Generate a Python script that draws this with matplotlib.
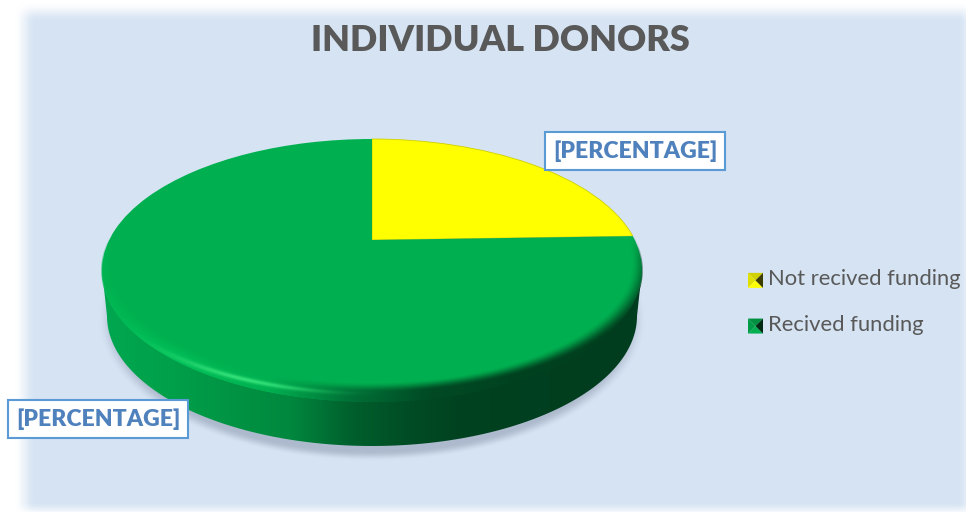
import numpy as np
import matplotlib
matplotlib.use("Agg")
import matplotlib.pyplot as plt
from matplotlib.colors import to_rgb
from matplotlib.legend_handler import HandlerBase
from matplotlib.patches import Polygon
from matplotlib.transforms import Transform

plt.rcParams['font.family'] = ['Lato', 'DejaVu Sans']

#chart data
title = "INDIVIDUAL DONORS"
categories = ["Not recived funding", "Recived funding"]
shares = [24.5, 75.5]
slice_colors = ["#FFFF00", "#00B050"]
data_labels = ["[PERCENTAGE]", "[PERCENTAGE]"]

W, H = 966, 512
CX, CY, A, B = 372, 270, 270, 131  #top face of the disc in pixels
APEX_Y = 240  #where the slices meet, perspective pushes it above the ellipse centre
K = (CY - APEX_Y) / B


class DiscProjection(Transform):  #unit circle -> tilted disc, true perspective map
    input_dims = 2
    output_dims = 2

    def transform_non_affine(self, values):
        u, v = values[:, 0], values[:, 1]
        px = CX + A * u * np.sqrt(1 - K ** 2) / (1 + K * v)
        py = CY - B * (v + K) / (1 + K * v)
        return np.column_stack([px, py])


class PyramidHandler(HandlerBase):  #bevelled legend key
    def create_artists(self, legend, orig, x0, y0, width, height, fontsize, trans):
        c = np.array(to_rgb(orig.get_facecolor()))
        s = 10.8
        x1, y1 = x0, y0 + height / 2 - s / 2 - 2.2
        x2, y2 = x1 + s, y1 + s
        mx, my = x1 + s / 2, y1 + s / 2
        sides = [([(x1, y2), (x2, y2), (mx, my)], 0.82),
                 ([(x1, y1), (x1, y2), (mx, my)], 0.88),
                 ([(x1, y1), (x2, y1), (mx, my)], 1.0),
                 ([(x2, y1), (x2, y2), (mx, my)], 0.24)]
        return [Polygon(p, closed=True, facecolor=c * f, edgecolor="none", transform=trans) for p, f in sides]


fig = plt.figure(figsize=(W / 100, H / 100), dpi=100)
ax = fig.add_axes([0, 0, 1, 1])
yy, xx = np.mgrid[0:H, 0:W] + 0.5
extent = (0, W, H, 0)


def smooth(t):
    t = np.clip(t, 0, 1)
    return t * t * (3 - 2 * t)


#slices first, pie resets the limits and aspect so those get fixed afterwards
wedges, _ = ax.pie(shares, colors=slice_colors, startangle=90, counterclock=False, radius=1)
for w in wedges:
    w.set_transform(DiscProjection() + ax.transData)
    w.set_zorder(4)
wedges[0].set_edgecolor("#D0D000")
wedges[0].set_linewidth(0.6)
wedges[1].set_edgecolor("none")

#soft edged blue background
bg = np.ones((H, W, 4))
bg[..., :3] = to_rgb("#D5E3F3")
bg[..., 3] = (smooth((xx - 14) / 22) * smooth((yy - 2) / 20) * smooth((512 - yy) / 14 + 0.3)
              * smooth((W + 8 - xx) / 20 + 0.2))
ax.imshow(bg, extent=extent, aspect='auto', zorder=1, interpolation='bilinear')

#shadow under the disc
r = np.sqrt(((xx - CX) / 274) ** 2 + ((yy - 319) / 142) ** 2)
shadow = np.zeros((H, W, 4))
shadow[..., :3] = to_rgb("#8C99AE")
shadow[..., 3] = 0.55 * (1 - smooth((r - 0.93) / 0.07))
ax.imshow(shadow, extent=extent, aspect='auto', zorder=2, interpolation='bilinear')

#side wall, shaded left to right
t = np.linspace(np.pi, 2 * np.pi, 200)
low = np.column_stack([CX + 265 * np.cos(t), 316 - 130 * np.sin(t)])
top = np.column_stack([CX + A * np.cos(t), CY - B * np.sin(t)])
band = np.vstack([[top[0]], low, top[::-1]])
stops_x = [100, 170, 290, 350, 410, 460, 640]
stops_c = np.array([[0, 168, 80], [0, 160, 74], [0, 136, 62], [0, 96, 45], [0, 76, 36], [0, 66, 32], [0, 60, 30]]) / 255
side = np.dstack([np.interp(xx, stops_x, stops_c[:, i]) for i in range(3)])
im = ax.imshow(side, extent=extent, aspect='auto', zorder=3, interpolation='bilinear')
im.set_clip_path(Polygon(band, closed=True, transform=ax.transData))

#rim bevel painted over the green slice
d = np.sqrt(((xx - CX) / (A - 9)) ** 2 + ((yy - (CY - 7)) / (B - 11)) ** 2)
outer = smooth((1 - np.sqrt(((xx - CX) / (A + 1.5)) ** 2 + ((yy - CY) / (B + 1.5)) ** 2)) / 0.005)
rim_x = [100, 180, 270, 350, 430, 520, 645]
rim_c = np.array([[0, 184, 84], [0, 190, 88], [0, 176, 80], [0, 112, 54], [0, 74, 36], [0, 66, 32], [0, 62, 30]]) / 255
rim = np.zeros((H, W, 4))
for i in range(3):
    rim[..., i] = np.interp(xx, rim_x, rim_c[:, i])
glow = np.exp(-((d - 1.085) / 0.018) ** 2) * np.exp(-((xx - 245) / 70) ** 2)
rim[..., :3] += glow[..., None] * (np.array([0.2, 0.88, 0.47]) - rim[..., :3])
rim[..., 3] = np.maximum(smooth((d - 0.99) / 0.09), glow) * smooth((yy - 232) / 30) * outer
ax.imshow(rim, extent=extent, aspect='auto', zorder=5, interpolation='bilinear')

ax.set_aspect('auto')
ax.set_xlim(0, W)
ax.set_ylim(H, 0)
ax.axis('off')

ax.text(500.5, 40.5, title, fontsize=25.9, fontweight='heavy', color="#595959", ha='center', va='center', zorder=8)

for (x, y), label in zip([(635, 151), (98, 419)], data_labels):
    ax.text(x, y, label, fontsize=16.6, fontweight='heavy', color="#4F81BD", ha='center', va='center', zorder=8,
            bbox=dict(boxstyle="square,pad=0.36", facecolor="white", edgecolor="#5B9BD5", linewidth=1.5))

keys = [plt.Rectangle((0, 0), 1, 1, facecolor=c) for c in slice_colors]
ax.legend(keys, categories, handler_map={plt.Rectangle: PyramidHandler()}, loc='upper left',
          bbox_to_anchor=(748, 269), bbox_transform=ax.transData, frameon=False, fontsize=15.8,
          labelcolor="#595959", borderpad=0, borderaxespad=0, handlelength=1.0, handletextpad=-0.09,
          labelspacing=1.17).set_zorder(8)

fig.savefig("out.png", dpi=100)
